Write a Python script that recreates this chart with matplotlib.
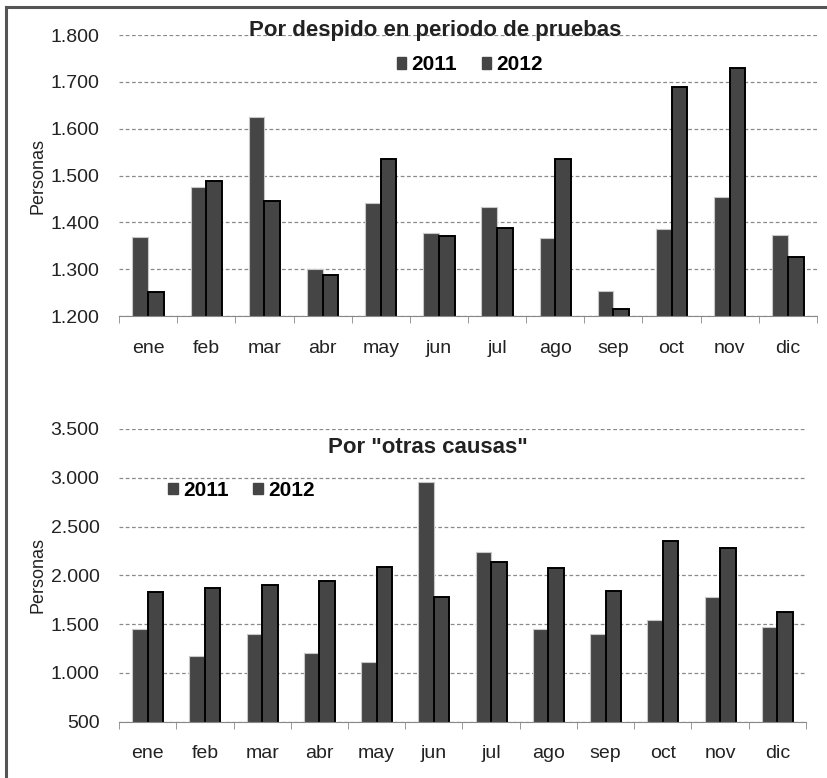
import matplotlib
matplotlib.use("Agg")
import matplotlib.pyplot as plt
import numpy as np
from matplotlib.lines import Line2D
from matplotlib.patches import Rectangle
from matplotlib.ticker import FuncFormatter, MultipleLocator

plt.rcParams["font.family"] = ["Liberation Sans", "DejaVu Sans"]

# ---------------------------------------------------------------------------
# Data
# ---------------------------------------------------------------------------
months = ["ene", "feb", "mar", "abr", "may", "jun",
          "jul", "ago", "sep", "oct", "nov", "dic"]

prueba_2011 = [1369, 1476, 1626, 1301, 1441, 1377,
               1432, 1367, 1253, 1385, 1455, 1372]
prueba_2012 = [1252, 1488, 1446, 1288, 1536, 1370,
               1388, 1535, 1216, 1689, 1730, 1325]

otras_2011 = [1450, 1176, 1402, 1204, 1115, 2960,
              2239, 1450, 1402, 1539, 1781, 1471]
otras_2012 = [1829, 1867, 1898, 1942, 2082, 1778,
              2134, 2072, 1840, 2349, 2277, 1624]

BAR = "#454545"
TXT = "#222222"


def miles(v, _pos):
    return f"{int(round(v)):,}".replace(",", ".")


def draw_panel(ax, v2011, v2012, ylim, step):
    x = np.arange(len(months))
    w = 0.27
    ax.bar(x - w / 2, v2011, w, color=BAR, edgecolor="#c8c8c8",
           linewidth=0.8, zorder=3)
    ax.bar(x + w / 2, v2012, w, color=BAR, edgecolor="black",
           linewidth=1.4, zorder=4)

    ax.set_xlim(-0.5, len(months) - 0.5)
    ax.set_ylim(*ylim)
    ax.yaxis.set_major_locator(MultipleLocator(step))
    ax.yaxis.set_major_formatter(FuncFormatter(miles))
    ax.grid(axis="y", color="#8a8a8a", linestyle=(0, (3, 2)), linewidth=0.9,
            zorder=0)

    ax.set_xticks(x)
    ax.set_xticklabels(months)
    ax.set_xticks(np.arange(-0.5, len(months), 1.0), minor=True)
    ax.tick_params(axis="x", which="major", length=0, pad=17,
                   labelsize=14, labelcolor=TXT)
    ax.tick_params(axis="x", which="minor", length=5, color="#888888")
    ax.tick_params(axis="y", length=0, pad=14, labelsize=14, labelcolor=TXT)

    for side in ("top", "right", "left"):
        ax.spines[side].set_visible(False)
    ax.spines["bottom"].set_color("#888888")
    ax.spines["bottom"].set_zorder(5)
    ax.set_ylabel("Personas", fontsize=13, color=TXT, labelpad=3)


def add_legend(fig, anchor):
    handles = [Rectangle((0, 0), 1, 1, color=BAR),
               Rectangle((0, 0), 1, 1, color=BAR)]
    fig.legend(handles, ["2011", "2012"], loc="center",
               bbox_to_anchor=anchor, ncol=2, frameon=False,
               handlelength=0.45, handleheight=0.45, handletextpad=0.25,
               columnspacing=1.2, prop={"weight": "bold", "size": 15})


fig = plt.figure(figsize=(8.27, 7.78), dpi=100)

ax1 = fig.add_axes([0.1439, 0.5938, 0.844, 0.3612])
draw_panel(ax1, prueba_2011, prueba_2012, (1200, 1800), 100)

ax2 = fig.add_axes([0.1439, 0.0724, 0.8307, 0.3762])
draw_panel(ax2, otras_2011, otras_2012, (500, 3500), 500)

fig.text(0.526, 0.961, "Por despido en periodo de pruebas", ha="center",
         va="center", fontsize=16, fontweight="bold", color=TXT)
fig.text(0.5175, 0.4254, 'Por "otras causas"', ha="center",
         va="center", fontsize=16, fontweight="bold", color=TXT)

add_legend(fig, (0.568, 0.9165))
add_legend(fig, (0.292, 0.370))

# outer frame (only left and top edges are visible in the source)
fig.add_artist(Line2D([0.0073, 0.0073], [0.0, 0.991], color="#555555",
                      linewidth=2.2, transform=fig.transFigure))
fig.add_artist(Line2D([0.0073, 1.0], [0.991, 0.991], color="#555555",
                      linewidth=2.2, transform=fig.transFigure))

fig.savefig("out.png", dpi=100)
